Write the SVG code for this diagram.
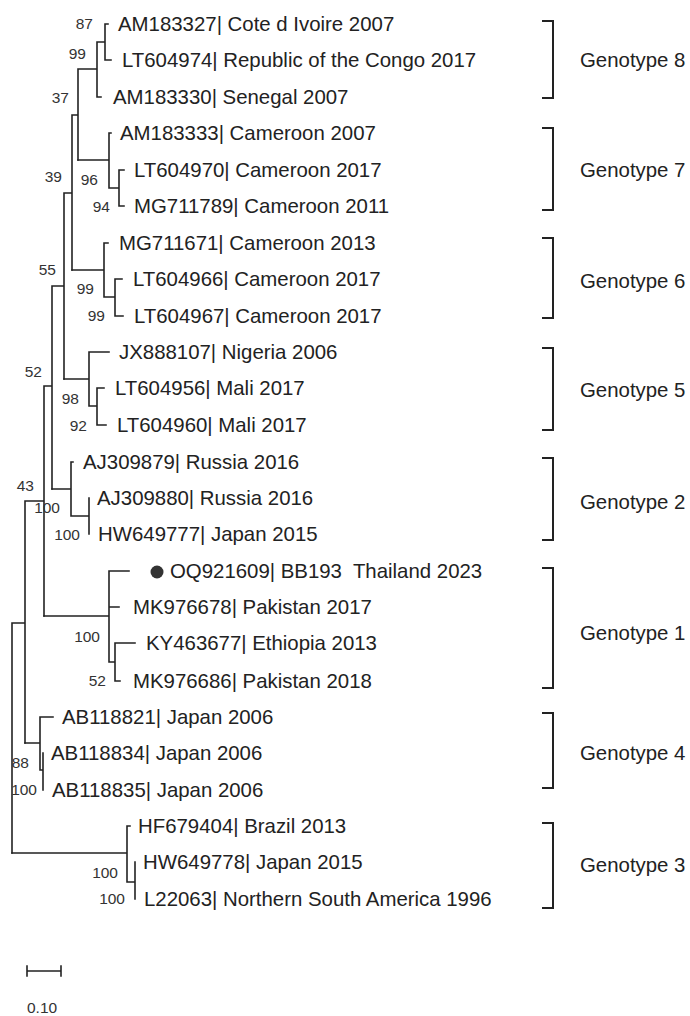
<svg xmlns="http://www.w3.org/2000/svg" width="690" height="1016" viewBox="0 0 690 1016">
<style>
.t{font-family:"Liberation Sans",Arial,sans-serif;font-size:20.4px;fill:#222}
.b{font-family:"Liberation Sans",Arial,sans-serif;font-size:15.5px;fill:#333;text-anchor:end}
.s{font-family:"Liberation Sans",Arial,sans-serif;font-size:15.5px;fill:#333}
.ln{fill:none;stroke:#222;stroke-width:1.6;stroke-linecap:square}
.br{fill:none;stroke:#222;stroke-width:2}
</style>
<rect width="690" height="1016" fill="#fff"/>
<g id="connectors" class="ln">
<path d="M12,623V853M12,623H25M25,501V743M25,501H44M44,386V616M44,386H52M52,286V489M52,286H64M64,193V379M64,193H72M72,115V270M72,115H78M78,69V160M78,69H97M97,42V97M97,42H105M105,24V60M105,24H108M105,60H111M97,97H101"/>
<path d="M78,160H109M109,133V188M109,133H111M109,188H119M119,170V206M119,170H124M119,206H124"/>
<path d="M72,270H104M104,243V297M104,243H108M104,297H115M115,279V316M115,279H122M115,316H123"/>
<path d="M64,379H89M89,352V406M89,352H109M89,406H97M97,388V425M97,388H104M97,425H106"/>
<path d="M52,489H71M71,462V516M71,462H73M71,516H89M89,498V534"/>
<path d="M44,616H109M109,571V662M109,571H129M109,607H119M109,662H115M115,643V681M115,643H135M115,681H120"/>
<path d="M25,743H40M40,717V770M40,717H53M40,770H43M43,753V790"/>
<path d="M12,853H127M127,826V882M127,826H130M127,882H135M135,862V899"/>
</g>
<g id="bootstrap">
<text class="b" x="93" y="29">87</text>
<text class="b" x="86" y="59">99</text>
<text class="b" x="69" y="103">37</text>
<text class="b" x="62" y="182">39</text>
<text class="b" x="98" y="185">96</text>
<text class="b" x="110" y="212">94</text>
<text class="b" x="56" y="275">55</text>
<text class="b" x="94" y="294">99</text>
<text class="b" x="105" y="321">99</text>
<text class="b" x="42" y="377">52</text>
<text class="b" x="79" y="404">98</text>
<text class="b" x="87" y="431">92</text>
<text class="b" x="34" y="491">43</text>
<text class="b" x="60" y="513">100</text>
<text class="b" x="80" y="540">100</text>
<text class="b" x="100" y="642">100</text>
<text class="b" x="106" y="686">52</text>
<text class="b" x="29" y="768">88</text>
<text class="b" x="37" y="795">100</text>
<text class="b" x="118" y="878">100</text>
<text class="b" x="125" y="904">100</text>
</g>
<g id="leaf-AM183327"><text class="t" x="118" y="31">AM183327| Cote d Ivoire 2007</text></g>
<g id="leaf-LT604974"><text class="t" x="122" y="67">LT604974| Republic of the Congo 2017</text></g>
<g id="leaf-AM183330"><text class="t" x="113" y="104">AM183330| Senegal 2007</text></g>
<g id="leaf-AM183333"><text class="t" x="120" y="140">AM183333| Cameroon 2007</text></g>
<g id="leaf-LT604970"><text class="t" x="134" y="177">LT604970| Cameroon 2017</text></g>
<g id="leaf-MG711789"><text class="t" x="134" y="213">MG711789| Cameroon 2011</text></g>
<g id="leaf-MG711671"><text class="t" x="119" y="250">MG711671| Cameroon 2013</text></g>
<g id="leaf-LT604966"><text class="t" x="133" y="286">LT604966| Cameroon 2017</text></g>
<g id="leaf-LT604967"><text class="t" x="134" y="323">LT604967| Cameroon 2017</text></g>
<g id="leaf-JX888107"><text class="t" x="119" y="359">JX888107| Nigeria 2006</text></g>
<g id="leaf-LT604956"><text class="t" x="115" y="395">LT604956| Mali 2017</text></g>
<g id="leaf-LT604960"><text class="t" x="117" y="432">LT604960| Mali 2017</text></g>
<g id="leaf-AJ309879"><text class="t" x="83" y="469">AJ309879| Russia 2016</text></g>
<g id="leaf-AJ309880"><text class="t" x="97" y="505">AJ309880| Russia 2016</text></g>
<g id="leaf-HW649777"><text class="t" x="98" y="541">HW649777| Japan 2015</text></g>
<g id="leaf-OQ921609"><circle cx="157" cy="572" r="6.5" fill="#333"/><text class="t" x="170" y="578" xml:space="preserve">OQ921609| BB193  Thailand 2023</text></g>
<g id="leaf-MK976678"><text class="t" x="133" y="614">MK976678| Pakistan 2017</text></g>
<g id="leaf-KY463677"><text class="t" x="146" y="650">KY463677| Ethiopia 2013</text></g>
<g id="leaf-MK976686"><text class="t" x="133" y="688">MK976686| Pakistan 2018</text></g>
<g id="leaf-AB118821"><text class="t" x="62" y="724">AB118821| Japan 2006</text></g>
<g id="leaf-AB118834"><text class="t" x="51" y="760">AB118834| Japan 2006</text></g>
<g id="leaf-AB118835"><text class="t" x="52" y="797">AB118835| Japan 2006</text></g>
<g id="leaf-HF679404"><text class="t" x="138" y="833">HF679404| Brazil 2013</text></g>
<g id="leaf-HW649778"><text class="t" x="143" y="869">HW649778| Japan 2015</text></g>
<g id="leaf-L22063"><text class="t" x="144" y="906">L22063| Northern South America 1996</text></g>
<g id="genotype-8"><path class="br" d="M542,21H553V98H542"/><text class="t" x="580" y="67">Genotype 8</text></g>
<g id="genotype-7"><path class="br" d="M542,128H553V210H542"/><text class="t" x="580" y="177">Genotype 7</text></g>
<g id="genotype-6"><path class="br" d="M542,238H553V318H542"/><text class="t" x="580" y="288">Genotype 6</text></g>
<g id="genotype-5"><path class="br" d="M542,348H553V430H542"/><text class="t" x="580" y="397">Genotype 5</text></g>
<g id="genotype-2"><path class="br" d="M542,458H553V540H542"/><text class="t" x="580" y="509">Genotype 2</text></g>
<g id="genotype-1"><path class="br" d="M542,568H553V688H542"/><text class="t" x="580" y="640">Genotype 1</text></g>
<g id="genotype-4"><path class="br" d="M542,713H553V788H542"/><text class="t" x="580" y="760">Genotype 4</text></g>
<g id="genotype-3"><path class="br" d="M542,823H553V908H542"/><text class="t" x="580" y="872">Genotype 3</text></g>
<g id="scale-bar"><path class="ln" d="M27,971H61M27,966V976M61,966V976"/><text class="s" x="27" y="1013">0.10</text></g>
</svg>
